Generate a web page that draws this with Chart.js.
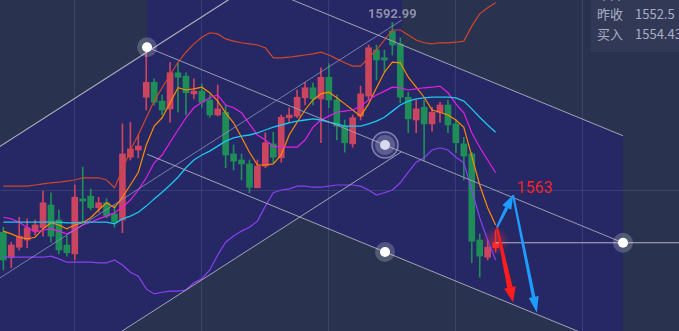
<!DOCTYPE html>
<html>
<head>
<meta charset="utf-8">
<script src="https://cdn.jsdelivr.net/npm/chart.js@4.4.1/dist/chart.umd.min.js"></script>
<style>
  html, body { margin: 0; padding: 0; background: #29324e; overflow: hidden; }
  #wrap { position: relative; width: 679px; height: 331px; }
  #quote {
    position: absolute; left: 591px; top: 0; width: 88px; height: 52px;
    background: #313957; overflow: hidden;
    font: 13px "Noto Sans CJK SC", "Noto Sans", sans-serif; color: #a9aec2;
  }
  #quote .row { position: absolute; left: 6px; height: 20px; line-height: 20px; white-space: nowrap; }
  #quote .v { position: absolute; left: 38px; }
</style>
</head>
<body>
<div id="wrap">
  <canvas id="chart" width="679" height="331"></canvas>
  <div id="quote">
    <div class="row" style="top:-16px"><span>今开</span></div>
    <div class="row" style="top:4px"><span>昨收</span><span class="v">1552.5</span></div>
    <div class="row" style="top:24px"><span>买入</span><span class="v">1554.43</span></div>
  </div>
</div>
<script>
// candles (index 0..62)
const openP = [1555.2,1550.6,1552.5,1553.8,1555.4,1556.0,1560.1,1557.4,1552.9,1551.3,
  1561.2,1561.7,1559.6,1560.5,1558.5,1557.4,1568.7,1570.0,1579.5,1582.2,
  1578.8,1577.4,1583.9,1583.3,1580.1,1580.6,1579.0,1576.3,1576.8,1569.3,
  1568.2,1567.5,1563.2,1567.1,1571.1,1568.6,1575.8,1576.1,1579.4,1581.2,
  1579.2,1583.1,1579.0,1574.3,1571.1,1576.1,1579.7,1588.0,1586.6,1591.4,
  1589.1,1579.5,1575.4,1577.7,1574.7,1576.8,1578.1,1574.7,1571.1,1569.3,
  1553.8,1550.7,1552.4];
const highP = [1556.1,1553.4,1557.9,1557.6,1557.4,1562.6,1562.3,1559.2,1554.5,1563.7,
  1566.9,1563.0,1561.5,1561.2,1560.1,1574.7,1575.0,1572.7,1588.0,1582.8,
  1579.9,1585.8,1585.7,1583.9,1582.8,1581.9,1579.9,1581.7,1578.1,1570.9,
  1569.3,1568.2,1568.2,1573.1,1573.2,1576.3,1577.6,1580.8,1582.2,1582.1,
  1584.8,1585.5,1579.9,1575.4,1576.3,1581.5,1588.9,1588.9,1588.0,1592.99,
  1590.2,1580.4,1579.0,1579.0,1577.7,1578.6,1579.0,1575.4,1572.3,1569.6,
  1554.9,1553.8,1555.6];
const lowP = [1548.4,1548.8,1552.0,1552.4,1554.7,1554.5,1553.4,1551.3,1550.9,1550.2,
  1557.0,1559.2,1558.8,1557.8,1556.1,1555.1,1568.2,1568.6,1577.2,1578.1,
  1576.3,1575.0,1576.8,1576.3,1579.2,1577.7,1575.9,1576.1,1566.8,1566.4,
  1564.6,1562.3,1563.2,1566.8,1567.7,1567.8,1574.9,1575.8,1578.1,1578.1,
  1571.3,1577.6,1571.8,1569.6,1570.5,1575.4,1579.0,1582.6,1584.0,1587.1,
  1578.5,1573.1,1573.1,1568.0,1573.4,1575.0,1573.1,1569.5,1564.6,1549.7,
  1547.1,1550.2,1551.6];
const closeP = [1550.2,1552.9,1554.5,1556.0,1556.5,1560.5,1554.5,1552.0,1551.5,1561.5,
  1560.8,1559.6,1560.5,1558.1,1557.0,1569.3,1570.2,1570.7,1582.2,1578.6,
  1577.2,1583.9,1583.1,1580.3,1580.6,1578.6,1576.3,1577.4,1569.1,1568.0,
  1567.5,1563.3,1567.1,1571.3,1568.7,1575.9,1576.3,1579.5,1581.2,1579.2,
  1583.1,1579.0,1574.3,1571.3,1575.8,1580.1,1588.4,1586.2,1586.2,1588.9,
  1579.5,1575.6,1577.4,1574.7,1576.8,1578.1,1574.5,1571.3,1568.9,1553.6,
  1550.9,1552.5,1553.3];

// bollinger bands and moving averages
const bollUpper = [1563.5,1563.5,1563.5,1563.5,1563.7,1563.9,1564.1,1564.2,1564.4,1564.6,
  1565.0,1565.0,1565.0,1564.6,1563.2,1566.4,1570.0,1572.7,1575.8,1578.8,
  1581.2,1583.5,1585.8,1587.6,1589.1,1590.3,1591.1,1590.9,1590.0,1589.6,
  1589.3,1589.1,1588.9,1588.4,1586.6,1586.6,1586.7,1586.9,1587.1,1587.3,
  1587.6,1587.1,1586.4,1585.7,1585.1,1585.1,1586.6,1588.0,1589.8,1591.6,
  1591.6,1590.7,1589.8,1589.3,1589.1,1589.3,1589.3,1589.4,1589.6,1592.3,
  1594.5,1595.6,1596.5];
const bollLower = [1550.7,1550.7,1550.7,1550.7,1550.7,1550.7,1550.9,1550.4,1549.8,1549.8,
  1549.8,1549.8,1549.7,1549.7,1550.2,1549.3,1548.0,1547.3,1545.0,1544.1,
  1544.4,1544.6,1544.6,1544.8,1546.1,1546.8,1548.4,1551.1,1553.4,1554.5,
  1555.4,1556.1,1557.2,1559.9,1562.3,1562.8,1563.0,1563.5,1563.5,1563.3,
  1563.3,1563.5,1563.7,1563.7,1563.7,1563.5,1562.8,1561.9,1562.3,1562.8,
  1564.1,1566.0,1567.8,1568.6,1570.0,1570.4,1570.0,1568.7,1567.7,1562.8,
  1557.8,1553.8,1550.2];
const ma5 = [1555.4,1554.9,1554.3,1554.0,1554.3,1555.8,1556.9,1556.5,1555.8,1556.5,
  1556.9,1557.8,1559.2,1560.5,1559.6,1561.5,1563.7,1566.0,1570.9,1574.3,
  1575.8,1578.5,1581.2,1580.8,1581.0,1581.3,1580.3,1578.8,1576.7,1574.9,
  1572.3,1569.6,1567.3,1567.3,1567.5,1569.1,1572.7,1575.0,1577.2,1579.0,
  1580.1,1580.4,1579.4,1578.3,1577.2,1576.1,1578.3,1581.2,1584.0,1585.8,
  1585.7,1583.1,1581.3,1579.5,1577.2,1576.8,1576.3,1575.4,1574.1,1568.9,
  1563.7,1559.6,1556.5];
const ma10 = [1557.9,1557.6,1557.0,1556.1,1555.2,1555.6,1555.8,1555.4,1554.9,1555.6,
  1556.5,1557.0,1557.6,1558.1,1558.7,1559.7,1561.0,1562.8,1565.0,1567.7,
  1569.1,1571.4,1573.6,1575.8,1577.6,1578.6,1579.4,1579.9,1578.1,1577.6,
  1576.7,1574.7,1572.7,1571.8,1570.7,1570.5,1570.5,1570.5,1571.8,1574.1,
  1575.4,1576.1,1576.8,1577.0,1577.2,1577.9,1579.0,1579.9,1580.6,1581.3,
  1581.2,1580.8,1581.0,1581.2,1581.3,1581.5,1580.3,1578.3,1576.7,1573.1,
  1570.5,1568.2,1565.9];
const ma20 = [1557.0,1557.0,1557.0,1557.0,1557.0,1557.0,1557.0,1557.0,1556.9,1556.9,
  1557.0,1557.0,1557.0,1557.0,1556.7,1557.6,1558.1,1558.8,1559.9,1561.2,
  1562.4,1563.7,1565.1,1566.8,1568.2,1569.1,1569.8,1570.7,1571.6,1572.2,
  1572.5,1572.7,1573.1,1573.6,1574.1,1574.5,1574.9,1575.2,1575.4,1575.6,
  1575.4,1575.0,1574.7,1574.3,1574.3,1574.3,1574.7,1575.2,1575.9,1577.0,
  1578.1,1578.8,1579.2,1579.4,1579.5,1579.5,1579.5,1579.4,1578.8,1577.4,
  1575.9,1574.5,1573.2];

// grid positions (candle index / price)
const gridX = [9, 25, 41, 57, 73];
const gridY = [1562.8];

// drawn objects, anchored in candle index / price
const descChannel = { from: [18.1, 1588.5], to: [78.05, 1553.3], half: 19.26 };
const riseChannel = { from: [-10, 1538.2], to: [50.2, 1593.4], half: 23.67 };
const lastPrice = 1553.3;
const arrows = [
  { from: [62.18, 1556.1], to: [64.2, 1542.6], color: '#ff1c1c', w: 5.5, headW: 12, headL: 15 },
  { from: [62.18, 1556.1], to: [64.2, 1561.9], color: '#1e9cff', w: 3.5, headW: 10, headL: 14 },
  { from: [64.2, 1561.9], to: [67.2, 1540.7], color: '#1e9cff', w: 3.5, headW: 10, headL: 16 }
];
const targetLabel = { text: '1563', at: [64.2, 1563] };

const last = openP.length - 1;
const upColor = '#cc4560', downColor = '#1f8d57', lastColor = '#ff2b2b';
const candleColor = (i) => i === last ? lastColor : (closeP[i] >= openP[i] ? upColor : downColor);

const series = (arr) => arr.map((v, i) => ({ x: i, y: v }));
const chLine = (ch, k) => [
  { x: ch.from[0], y: ch.from[1] + k * ch.half },
  { x: ch.to[0], y: ch.to[1] + k * ch.half }
];
const midOf = (ch, k) => ({ x: (ch.from[0] + ch.to[0]) / 2, y: (ch.from[1] + ch.to[1]) / 2 + k * ch.half });

const channelGrey = '#a4a4b6';
const bandFill = '#262865';

function lineDs(data, color, width, order, extra) {
  return Object.assign({ type: 'line', data, borderColor: color, borderWidth: width,
    pointRadius: 0, fill: false, order }, extra || {});
}

function drawArrow(ctx, x0, y0, x1, y1, a) {
  const ang = Math.atan2(y1 - y0, x1 - x0);
  const c = Math.cos(ang), s = Math.sin(ang);
  const bx = x1 - c * a.headL, by = y1 - s * a.headL;
  const w0 = 1, w1 = a.w / 2;
  ctx.fillStyle = a.color;
  ctx.beginPath();
  ctx.moveTo(x0 - s * w0, y0 + c * w0);
  ctx.lineTo(bx - s * w1, by + c * w1);
  ctx.lineTo(bx + s * w1, by - c * w1);
  ctx.lineTo(x0 + s * w0, y0 - c * w0);
  ctx.closePath();
  ctx.fill();
  ctx.beginPath();
  ctx.moveTo(x1, y1);
  ctx.lineTo(bx - s * a.headW / 2, by + c * a.headW / 2);
  ctx.lineTo(bx + s * a.headW / 2, by - c * a.headW / 2);
  ctx.closePath();
  ctx.fill();
}

const drawings = {
  id: 'drawings',
  beforeDatasetsDraw(chart) {
    const { ctx, scales: { x, y } } = chart;
    // glow behind the live candle
    const gx = x.getPixelForValue(last), gy = y.getPixelForValue((highP[last] + lowP[last]) / 2);
    const g = ctx.createRadialGradient(gx, gy, 0, gx, gy, 14);
    g.addColorStop(0, 'rgba(255,50,60,0.45)');
    g.addColorStop(1, 'rgba(255,50,60,0)');
    ctx.save();
    ctx.fillStyle = g;
    ctx.fillRect(gx - 15, gy - 15, 30, 30);
    ctx.restore();
  },
  afterDatasetsDraw(chart) {
    const { ctx, scales: { x, y } } = chart;
    ctx.save();
    arrows.forEach(a => drawArrow(ctx,
      x.getPixelForValue(a.from[0]), y.getPixelForValue(a.from[1]),
      x.getPixelForValue(a.to[0]), y.getPixelForValue(a.to[1]), a));

    ctx.font = '16px Roboto, "Liberation Sans", sans-serif';
    ctx.fillStyle = '#ff2424';
    ctx.textBaseline = 'middle';
    ctx.textAlign = 'left';
    ctx.fillText(targetLabel.text, x.getPixelForValue(targetLabel.at[0]) + 4, y.getPixelForValue(targetLabel.at[1]));

    let hi = 0;
    highP.forEach((v, i) => { if (v > highP[hi]) hi = i; });
    ctx.font = 'bold 13px Roboto, "Liberation Sans", sans-serif';
    ctx.fillStyle = '#8c8fa6';
    ctx.textAlign = 'center';
    ctx.textBaseline = 'bottom';
    ctx.fillText(highP[hi].toFixed(2), x.getPixelForValue(hi), y.getPixelForValue(highP[hi]) - 1);
    ctx.restore();
  }
};

const anchorDots = [
  { x: descChannel.from[0], y: descChannel.from[1] },
  midOf(descChannel, -1),
  { x: descChannel.to[0], y: descChannel.to[1] }
];
const ringDot = [midOf(descChannel, 0)];

const gridStyle = { color: 'rgba(125,138,185,0.22)', lineWidth: 1, drawTicks: false, offset: false };

new Chart(document.getElementById('chart'), {
  type: 'bar',
  data: {
    datasets: [
      lineDs(chLine(descChannel, 1), channelGrey, 1, 3, { fill: '+1', backgroundColor: bandFill }),
      lineDs(chLine(descChannel, -1), channelGrey, 1, 3),
      lineDs(chLine(descChannel, 0), '#9a9ab0', 1, 3),
      lineDs(chLine(riseChannel, 1), '#b0b0bc', 1.2, 3, { fill: '+1', backgroundColor: bandFill }),
      lineDs(chLine(riseChannel, -1), channelGrey, 1, 3),
      lineDs(chLine(riseChannel, 0), 'rgba(150,150,195,0.75)', 1, 3),
      lineDs([{ x: last, y: lastPrice }, { x: 90, y: lastPrice }], '#b4b4c4', 1, 3),
      lineDs(series(bollUpper), '#d2452c', 1.2, 5),
      lineDs(series(bollLower), '#8b3ff0', 1.2, 5),
      lineDs(series(ma20), '#1fc6f0', 1.3, 5),
      lineDs(series(ma10), '#e41ee6', 1.2, 5),
      lineDs(series(ma5), '#ff8a00', 1.2, 5),
      {
        label: 'wick', grouped: false, order: 8, barThickness: 1,
        data: openP.map((o, i) => ({ x: i, y: [lowP[i], highP[i]] })),
        backgroundColor: openP.map((o, i) => candleColor(i)), borderWidth: 0
      },
      {
        label: 'body', grouped: false, order: 7, barThickness: 6,
        data: openP.map((o, i) => ({ x: i, y: [o, closeP[i]] })),
        backgroundColor: openP.map((o, i) => candleColor(i)), borderWidth: 0
      },
      lineDs(anchorDots.concat(ringDot), 'transparent', 0, 2,
        { showLine: false, pointRadius: 10, pointBackgroundColor: 'rgba(255,255,255,0.2)', pointBorderWidth: 0 }),
      lineDs(ringDot, 'transparent', 0, 2,
        { showLine: false, pointRadius: 13, pointBackgroundColor: 'rgba(150,150,210,0.15)',
          pointBorderColor: 'rgba(200,200,235,0.55)', pointBorderWidth: 1.5 }),
      lineDs(anchorDots, 'transparent', 0, 1,
        { showLine: false, pointRadius: 5, pointBackgroundColor: '#ffffff', pointBorderWidth: 0 }),
      lineDs(ringDot, 'transparent', 0, 1,
        { showLine: false, pointRadius: 5, pointBackgroundColor: '#d8d8ee', pointBorderWidth: 0 })
    ]
  },
  options: {
    responsive: false,
    animation: false,
    layout: { padding: 0, autoPadding: false },
    plugins: {
      legend: { display: false },
      tooltip: { enabled: false },
      filler: { drawTime: 'beforeDraw' }
    },
    scales: {
      x: {
        type: 'linear', min: -0.42, max: 85.1, offset: false,
        grid: gridStyle, border: { display: false }, ticks: { display: false },
        afterBuildTicks: (s) => { s.ticks = gridX.map(v => ({ value: v })); }
      },
      y: {
        type: 'linear', min: 1537.42, max: 1597,
        grid: gridStyle, border: { display: false }, ticks: { display: false },
        afterBuildTicks: (s) => { s.ticks = gridY.map(v => ({ value: v })); }
      }
    }
  },
  plugins: [drawings]
});
</script>
</body>
</html>
